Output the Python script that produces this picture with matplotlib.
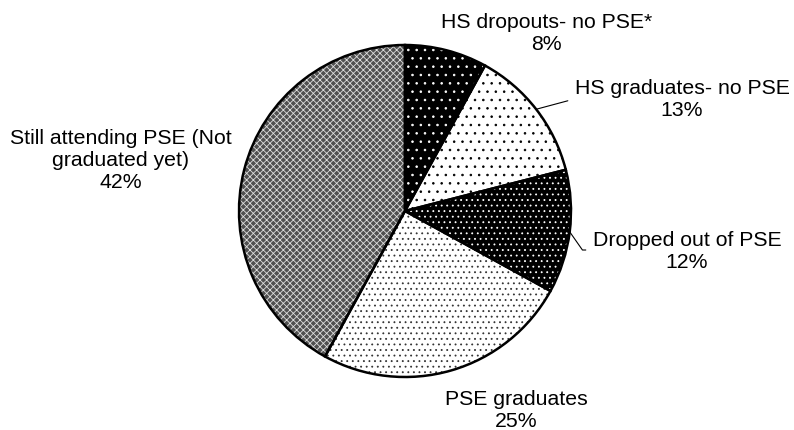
import matplotlib.pyplot as plt
import numpy as np

plt.rcParams['font.family'] = ['Liberation Sans', 'DejaVu Sans']
plt.rcParams['hatch.linewidth'] = 0.6

groups = ['HS dropouts- no PSE*', 'HS graduates- no PSE', 'Dropped out of PSE',
          'PSE graduates', 'Still attending PSE (Not\ngraduated yet)']
shares = [8, 13, 12, 25, 42]

faces = ['black', 'white', 'black', 'white', '#505050']
dot_colors = ['white', 'black', 'white', '#333333', '#dddddd']
hatches = ['..', '..', '...', '...', 'xxxxx']

# where each label block sits (pie radius = 1)
label_pos = [(0.855, 1.078), (1.669, 0.675), (1.699, -0.235), (0.669, -1.193), (-1.711, 0.313)]

fig = plt.figure(figsize=(7.94, 4.31), dpi=100)
ax = fig.add_axes([0, 0, 1, 1])

wedges, _ = ax.pie(shares, startangle=90, counterclock=False, radius=1,
                   wedgeprops=dict(linewidth=0))
for w, f, d, h in zip(wedges, faces, dot_colors, hatches):
    w.set_facecolor(f)
    w.set_edgecolor(d)
    w.set_hatch(h)

outline, _ = ax.pie(shares, startangle=90, counterclock=False, radius=1,
                    wedgeprops=dict(fill=False, edgecolor='black', linewidth=1.8))

R = 166.0
ax.set_xlim(-405 / R, (794 - 405) / R)
ax.set_ylim(-(431 - 212) / R, 212 / R)
ax.axis('off')

for i, (w, name, v, pos) in enumerate(zip(wedges, groups, shares, label_pos)):
    txt = f'{name}\n{v}%'
    mid = np.deg2rad((w.theta1 + w.theta2) / 2)
    edge = (np.cos(mid), np.sin(mid))
    if i == 1:
        ax.annotate(txt, xy=edge, xytext=pos, ha='center', va='center', fontsize=15.3,
                    arrowprops=dict(arrowstyle='-', color='black', lw=0.8,
                                    shrinkA=3, shrinkB=0, relpos=(0, 0.5)))
    elif i == 2:
        ax.annotate(txt, xy=edge, xytext=pos, ha='center', va='center', fontsize=15.3,
                    arrowprops=dict(arrowstyle='-', color='black', lw=0.8,
                                    shrinkA=3, shrinkB=0, relpos=(0, 0.5),
                                    connectionstyle='angle,angleA=0,angleB=-55,rad=0'))
    else:
        ax.text(pos[0], pos[1], txt, ha='center', va='center', fontsize=15.3)

fig.savefig('out.png', dpi=100)
